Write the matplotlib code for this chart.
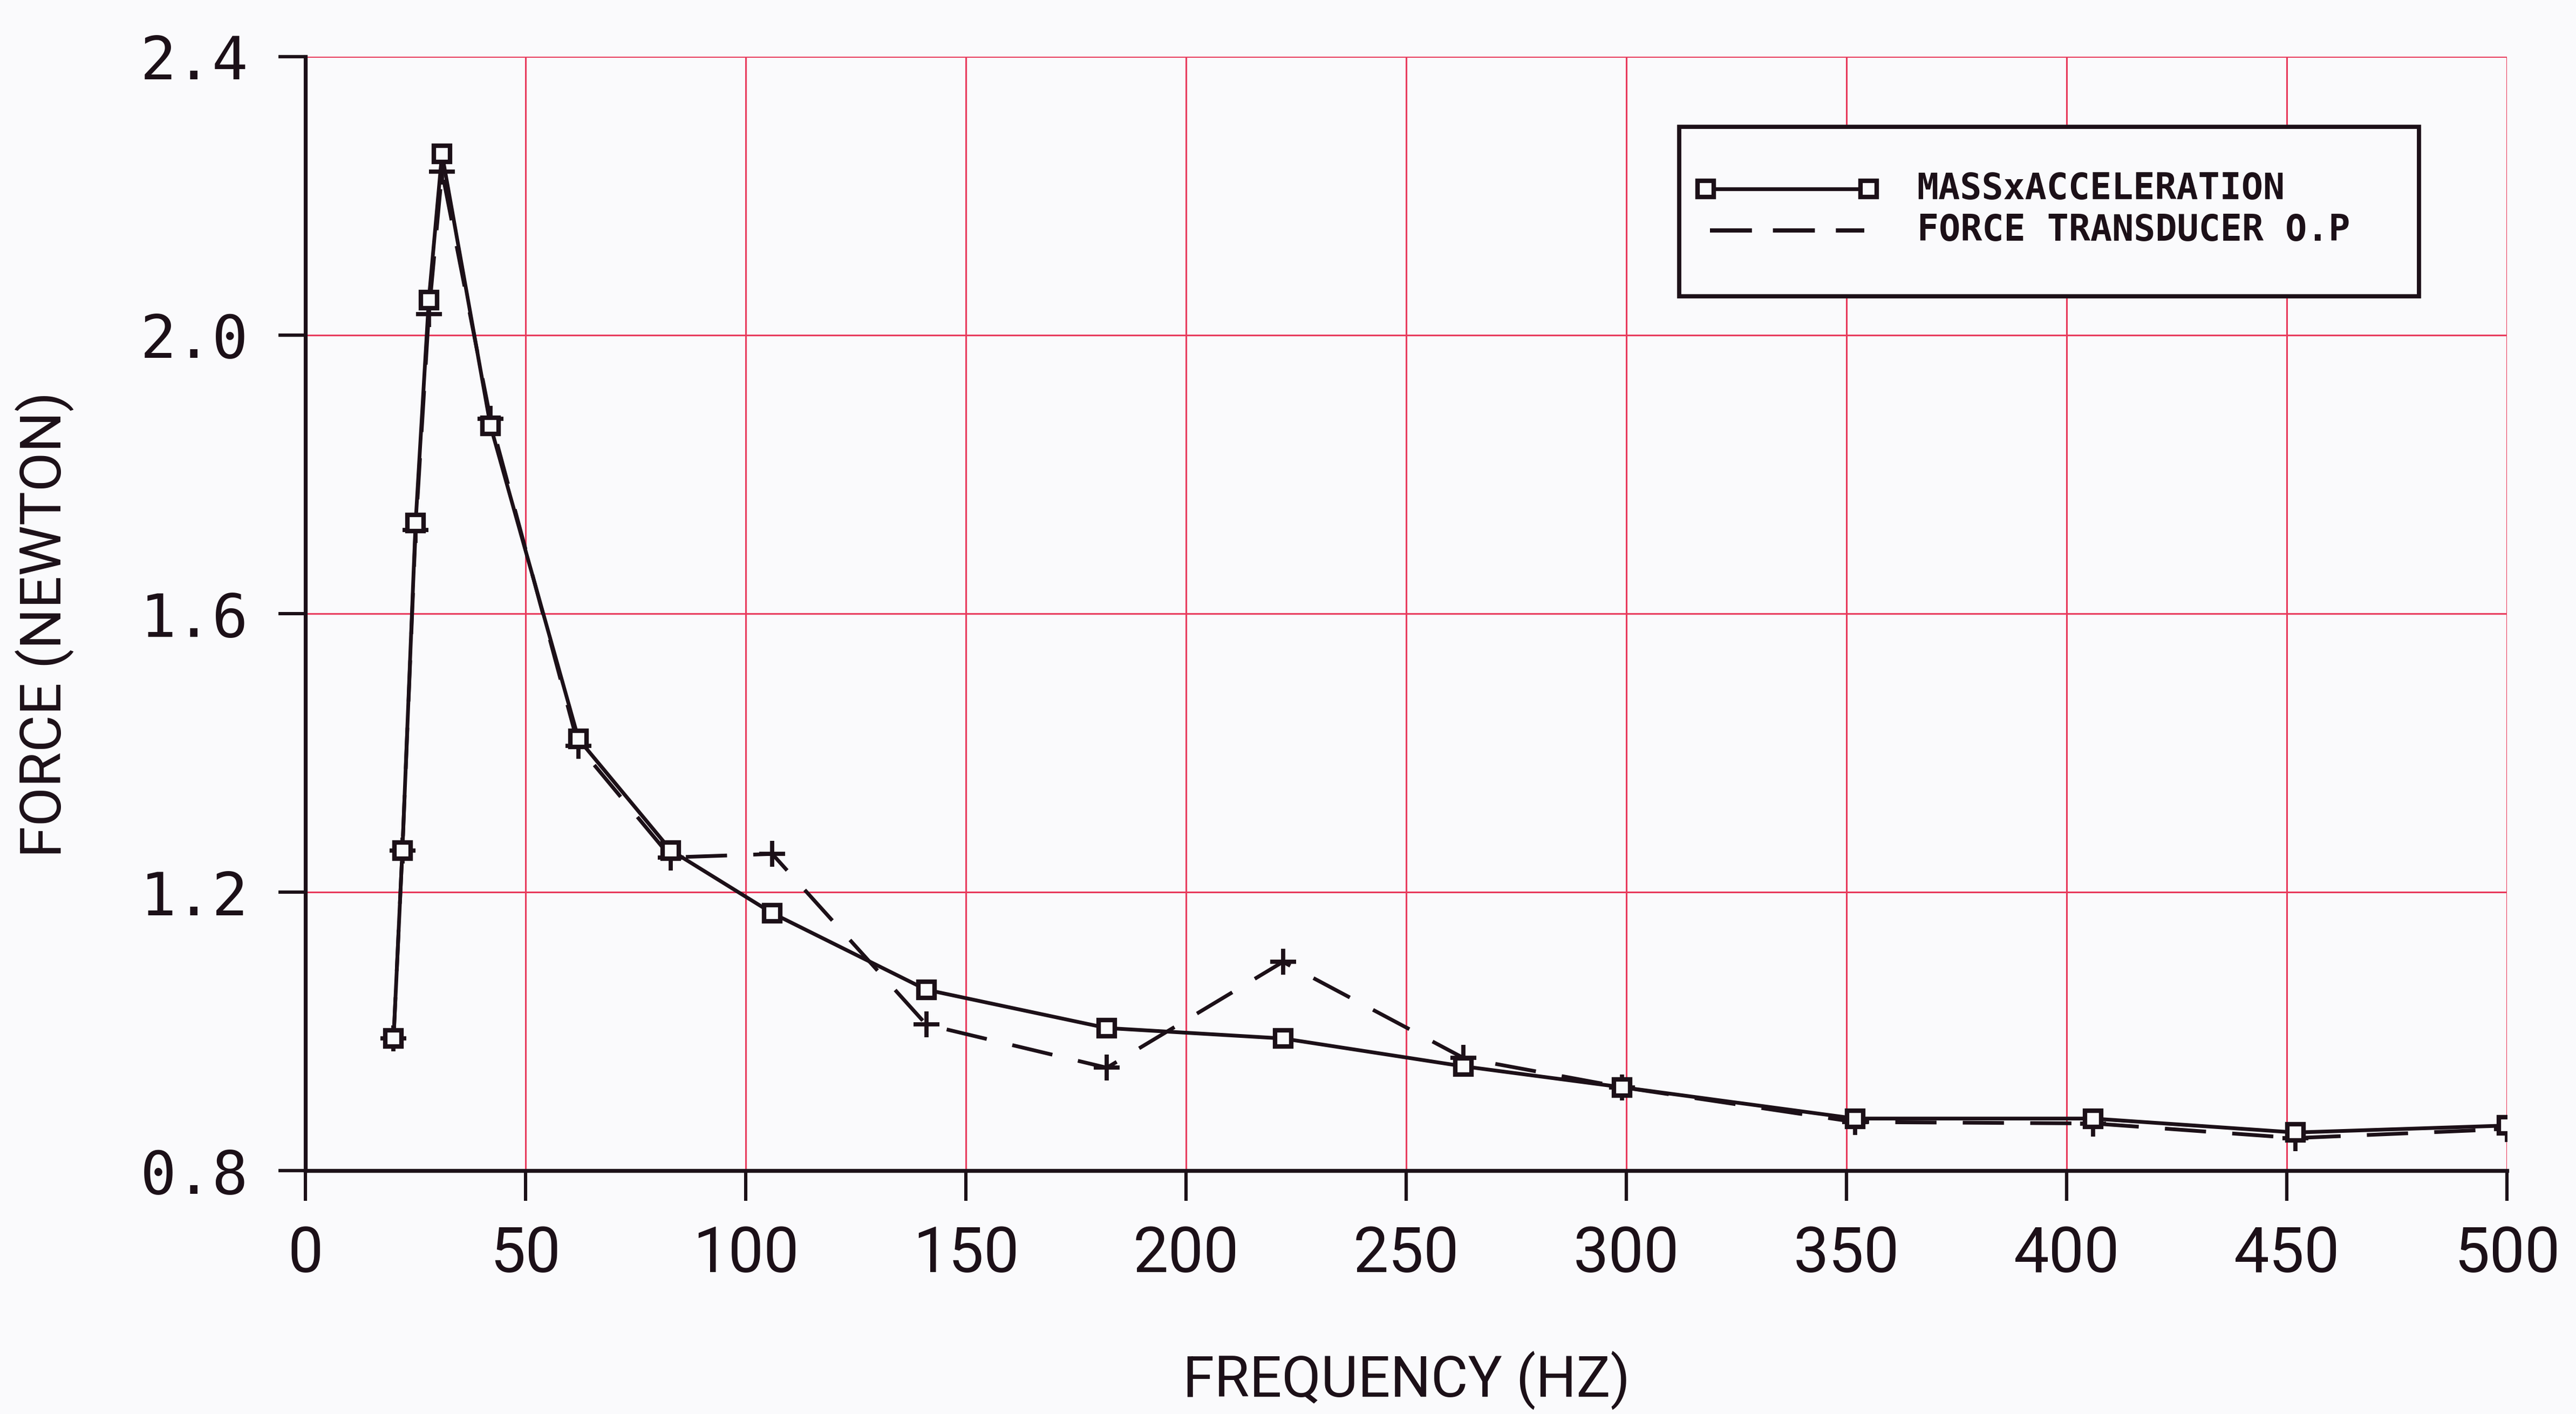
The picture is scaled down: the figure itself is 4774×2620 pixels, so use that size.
import matplotlib
matplotlib.use("Agg")
import matplotlib.pyplot as plt
from matplotlib.lines import Line2D
from matplotlib.patches import Rectangle

# Measured force versus excitation frequency
freq_hz = [20, 22, 25, 28, 31, 42, 62, 83, 106, 141, 182, 222, 263, 299, 352, 406, 452, 500]
mass_x_accel = [0.99, 1.26, 1.73, 2.05, 2.26, 1.87, 1.42, 1.26, 1.17, 1.06, 1.005, 0.99,
                0.95, 0.92, 0.875, 0.875, 0.855, 0.865]
transducer_op = [0.99, 1.26, 1.72, 2.03, 2.235, 1.88, 1.41, 1.25, 1.255, 1.01, 0.948, 1.10,
                 0.962, 0.92, 0.87, 0.868, 0.847, 0.86]

x_ticks = [0, 50, 100, 150, 200, 250, 300, 350, 400, 450, 500]
y_ticks = [0.8, 1.2, 1.6, 2.0, 2.4]
y_tick_labels = ["0.8", "1.2", "1.6", "2.0", "2.4"]

series_labels = ["MASSxACCELERATION", "FORCE TRANSDUCER O.P"]

ink = "#1c1018"
grid_red = "#e83a5c"
paper = "#fafafc"

fig = plt.figure(figsize=(23.87, 13.10), dpi=200, facecolor=paper)
ax = fig.add_axes([0.1186, 0.172, 0.8546, 0.788], facecolor=paper)

dash = (0, (11, 7))
ax.plot(freq_hz, transducer_op, color=ink, lw=2.5, linestyle=dash,
        marker="+", markersize=17, markeredgewidth=2.8, zorder=3)
ax.plot(freq_hz, mass_x_accel, color=ink, lw=2.5, linestyle="-",
        marker="s", markersize=11, markeredgewidth=3.0,
        markerfacecolor=paper, markeredgecolor=ink, zorder=4)

ax.set_xlim(0, 500)
ax.set_ylim(0.8, 2.4)
ax.set_xticks(x_ticks)
ax.set_yticks(y_ticks)
ax.set_yticklabels(y_tick_labels)

ax.grid(True, color=grid_red, lw=1.1, zorder=0)
ax.set_axisbelow(True)
for side in ("top", "right"):
    ax.spines[side].set_visible(False)
for side in ("left", "bottom"):
    ax.spines[side].set_color(ink)
    ax.spines[side].set_linewidth(2.6)

ax.tick_params(axis="x", direction="out", length=20, width=2.2, color=ink, pad=16,
               labelsize=42, labelcolor=ink)
ax.tick_params(axis="y", direction="out", length=18, width=2.2, color=ink, pad=20,
               labelsize=40, labelcolor=ink)
for lab in ax.get_xticklabels():
    lab.set_fontfamily("Roboto")
for lab in ax.get_yticklabels():
    lab.set_fontfamily("DejaVu Sans Mono")

ax.set_xlabel("FREQUENCY (HZ)", fontsize=38, family="Roboto", color=ink)
ax.xaxis.set_label_coords(0.5, -0.162)
ax.set_ylabel("FORCE (NEWTON)", fontsize=38, family="Roboto", color=ink)
ax.yaxis.set_label_coords(-0.105, 0.49)

# Key box in the upper right of the plotting area
tr = ax.transAxes
ax.add_patch(Rectangle((0.624, 0.785), 0.336, 0.152, transform=tr,
                       facecolor=paper, edgecolor=ink, lw=2.8, zorder=6))
ax.add_line(Line2D([0.636, 0.710], [0.881, 0.881], transform=tr, color=ink, lw=2.5,
                   marker="s", markersize=11, markeredgewidth=3.0,
                   markerfacecolor=paper, zorder=7))
ax.add_line(Line2D([0.638, 0.708], [0.844, 0.844], transform=tr, color=ink, lw=2.8,
                   linestyle=(0, (10, 5)), zorder=7))
ax.text(0.732, 0.881, series_labels[0], transform=tr, fontsize=24, family="DejaVu Sans Mono",
        fontweight="bold", color=ink, va="center", ha="left", zorder=7)
ax.text(0.732, 0.844, series_labels[1], transform=tr, fontsize=24, family="DejaVu Sans Mono",
        fontweight="bold", color=ink, va="center", ha="left", zorder=7)

fig.savefig("out.png", dpi=200, facecolor=paper)
